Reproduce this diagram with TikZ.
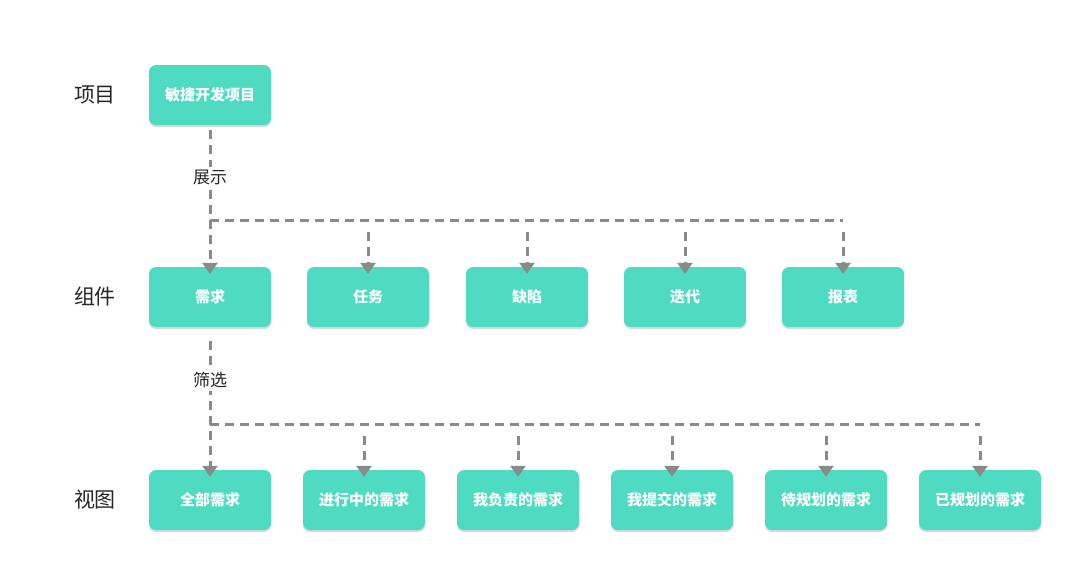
\documentclass[tikz,border=0pt]{standalone}
\usepackage{fontspec}
\newfontfamily\cjk{Noto Sans CJK SC}
\usetikzlibrary{arrows.meta,shadows}
\definecolor{teal}{HTML}{4FDBC2}
\definecolor{dgray}{HTML}{8A8A8A}
\begin{document}
\begin{tikzpicture}[x=1pt,y=-1pt,
 box/.style={fill=teal,rounded corners=7pt,minimum width=122pt,minimum height=60pt,text=white,font=\cjk\fontsize{15}{15}\selectfont\bfseries,drop shadow={shadow xshift=0pt,shadow yshift=-2pt,fill=black,opacity=0.15}},
 lab/.style={font=\cjk\fontsize{21}{21}\selectfont,text=black!85},
 dl/.style={draw=dgray,line width=3pt,dash pattern=on 9pt off 6pt},
 arr/.style={dl,-{Triangle[length=11pt,width=15pt]}},
 el/.style={fill=white,font=\cjk\fontsize{17}{17}\selectfont,text=black!85,inner sep=3pt}]
\useasboundingbox (0,0) rectangle (1080,582);
\node[lab] (l1) at (95,95) {项目};
\node[lab] (l2) at (95,297) {组件};
\node[lab] (l3) at (95,500) {视图};
\node[box] (p) at (210,95) {敏捷开发项目};
\foreach \n/\x/\t in {c1/210/需求,c2/368/任务,c3/527/缺陷,c4/685/迭代,c5/843/报表}
 \node[box] (\n) at (\x,297) {\t};
\foreach \n/\x/\t in {v1/210/全部需求,v2/364/进行中的需求,v3/518/我负责的需求,v4/672/我提交的需求,v5/826/待规划的需求,v6/980/已规划的需求}
 \node[box] (\n) at (\x,500) {\t};
% level 1
\coordinate (h1a) at (210,220);
\coordinate (h1b) at (843,220);
\draw[dl] (h1a) -- (h1b);
\draw[arr] (p.south) ++(0,5) -- ([yshift=-7pt]c1.north);
\node[el] at (210,177) {展示};
\foreach \n in {c2,c3,c4,c5}
 \draw[arr] (\n.north |- h1a) ++(0,12) -- ([yshift=-7pt]\n.north);
% level 2
\coordinate (h2a) at (210,424);
\coordinate (h2b) at (980,424);
\draw[dl] (h2a) -- (h2b);
\draw[arr] (c1.south) ++(0,14) -- ([yshift=-7pt]v1.north);
\node[el] at (210,380) {筛选};
\foreach \n in {v2,v3,v4,v5,v6}
 \draw[arr] (\n.north |- h2a) ++(0,12) -- ([yshift=-7pt]\n.north);
\end{tikzpicture}
\end{document}
